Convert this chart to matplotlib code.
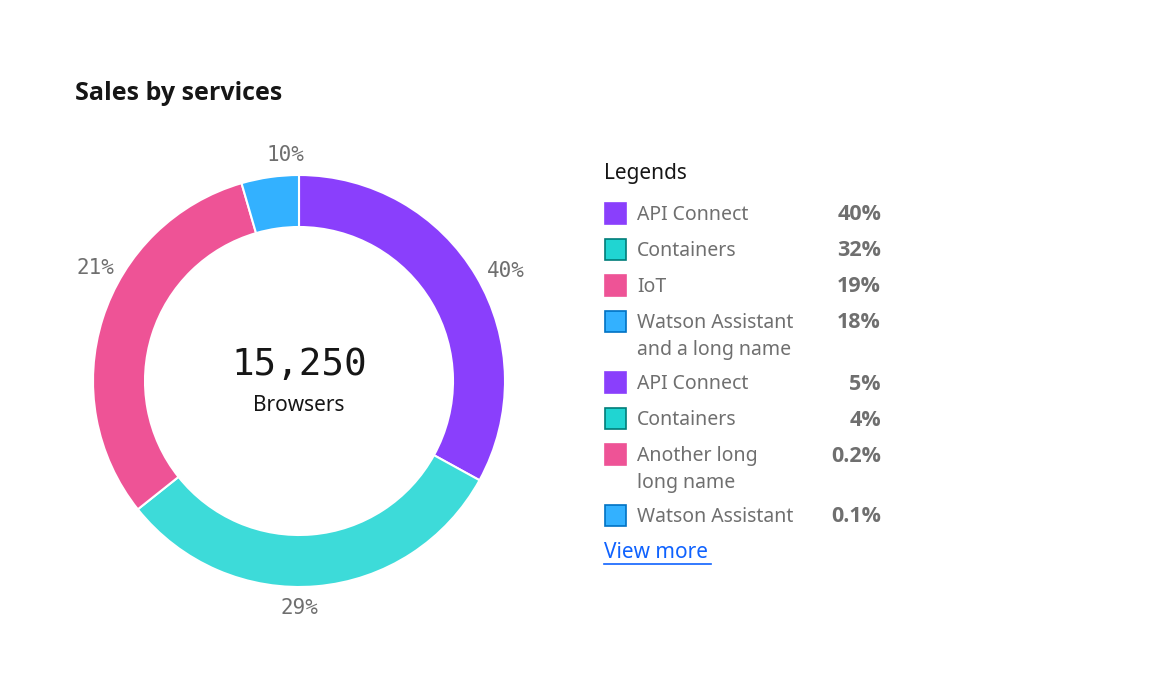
import math
import matplotlib.pyplot as plt
from matplotlib.patches import Rectangle

# slice data (arc sizes, labels as printed)
services = ["API Connect", "Containers", "IoT", "Watson Assistant"]
shares = [33.0, 31.3, 31.2, 4.5]
slice_labels = ["40%", "29%", "21%", "10%"]
colors = ["#8a3ffc", "#3ddbd9", "#ee5396", "#33b1ff"]

# legend data
legend_names = ["API Connect", "Containers", "IoT", "Watson Assistant\nand a long name",
                "API Connect", "Containers", "Another long\nlong name", "Watson Assistant"]
legend_values = ["40%", "32%", "19%", "18%", "5%", "4%", "0.2%", "0.1%"]
legend_colors = ["#8a3ffc", "#20d5d2", "#ee5396", "#33b1ff",
                 "#8a3ffc", "#20d5d2", "#ee5396", "#33b1ff"]
legend_edges = ["#8a3ffc", "#007d79", "#ee5396", "#0072c3",
                "#8a3ffc", "#007d79", "#ee5396", "#0072c3"]

total = "15,250"
total_label = "Browsers"

W, H = 1152, 699
fig = plt.figure(figsize=(W / 100, H / 100), dpi=100)
fig.patch.set_facecolor("white")

sans = ["Noto Sans", "DejaVu Sans"]
bold = ["Open Sans", "DejaVu Sans"]
mono = ["DejaVu Sans Mono"]

# donut
R = 206
half = 250
ax = fig.add_axes([(299 - half) / W, (H - 381 - half) / H, 2 * half / W, 2 * half / H])
wedges, texts = ax.pie(shares, colors=colors, startangle=90, counterclock=False,
                       labels=slice_labels, labeldistance=1.12,
                       wedgeprops=dict(width=52 / R, edgecolor="white", linewidth=1.5),
                       textprops=dict(family=mono, fontsize=15, color="#6f6f6f"))
# label placement (degrees clockwise from top, radius) as seen in the reference
label_angles = [62, 180, 299, 356.5]
label_radii = [1.14, 1.10, 1.13, 1.10]
for t, a, r in zip(texts, label_angles, label_radii):
    t.set_position((r * math.sin(math.radians(a)), r * math.cos(math.radians(a))))
    t.set_horizontalalignment("center")
    t.set_verticalalignment("center")
ax.set_xlim(-half / R, half / R)
ax.set_ylim(-half / R, half / R)
ax.set_aspect("equal")
ax.axis("off")
ax.text(0, 0.08, total, ha="center", va="center", family=mono, fontsize=27, color="#161616")
ax.text(0, -0.12, total_label, ha="center", va="center", family=sans, fontsize=15, color="#161616")

# overlay in pixel coordinates for title and legend
ov = fig.add_axes([0, 0, 1, 1])
ov.set_xlim(0, W)
ov.set_ylim(H, 0)
ov.axis("off")
ov.patch.set_alpha(0)

ov.text(75, 93, "Sales by services", ha="left", va="center", family=bold,
        fontsize=18, fontweight="bold", color="#161616")
ov.text(604, 173, "Legends", ha="left", va="center", family=sans, fontsize=15, color="#161616")

y = 213
for name, val, c, ec in zip(legend_names, legend_values, legend_colors, legend_edges):
    ov.add_patch(Rectangle((605, y - 10), 21, 21, facecolor=c, edgecolor=ec, linewidth=1.2))
    lines = name.split("\n")
    for i, line in enumerate(lines):
        ov.text(637, y + 2 + i * 27, line, ha="left", va="center", family=sans,
                fontsize=14, color="#6f6f6f")
    ov.text(881, y + 2, val, ha="right", va="center", family=bold, fontsize=15.5,
            fontweight="bold", color="#6f6f6f")
    y += 36 + (len(lines) - 1) * 25

ov.text(604, y + 1, "View more", ha="left", va="center", family=sans, fontsize=15, color="#0f62fe")
ov.plot([604, 711], [y + 13, y + 13], color="#0f62fe", linewidth=1.2)

fig.savefig("out.png", dpi=100)
